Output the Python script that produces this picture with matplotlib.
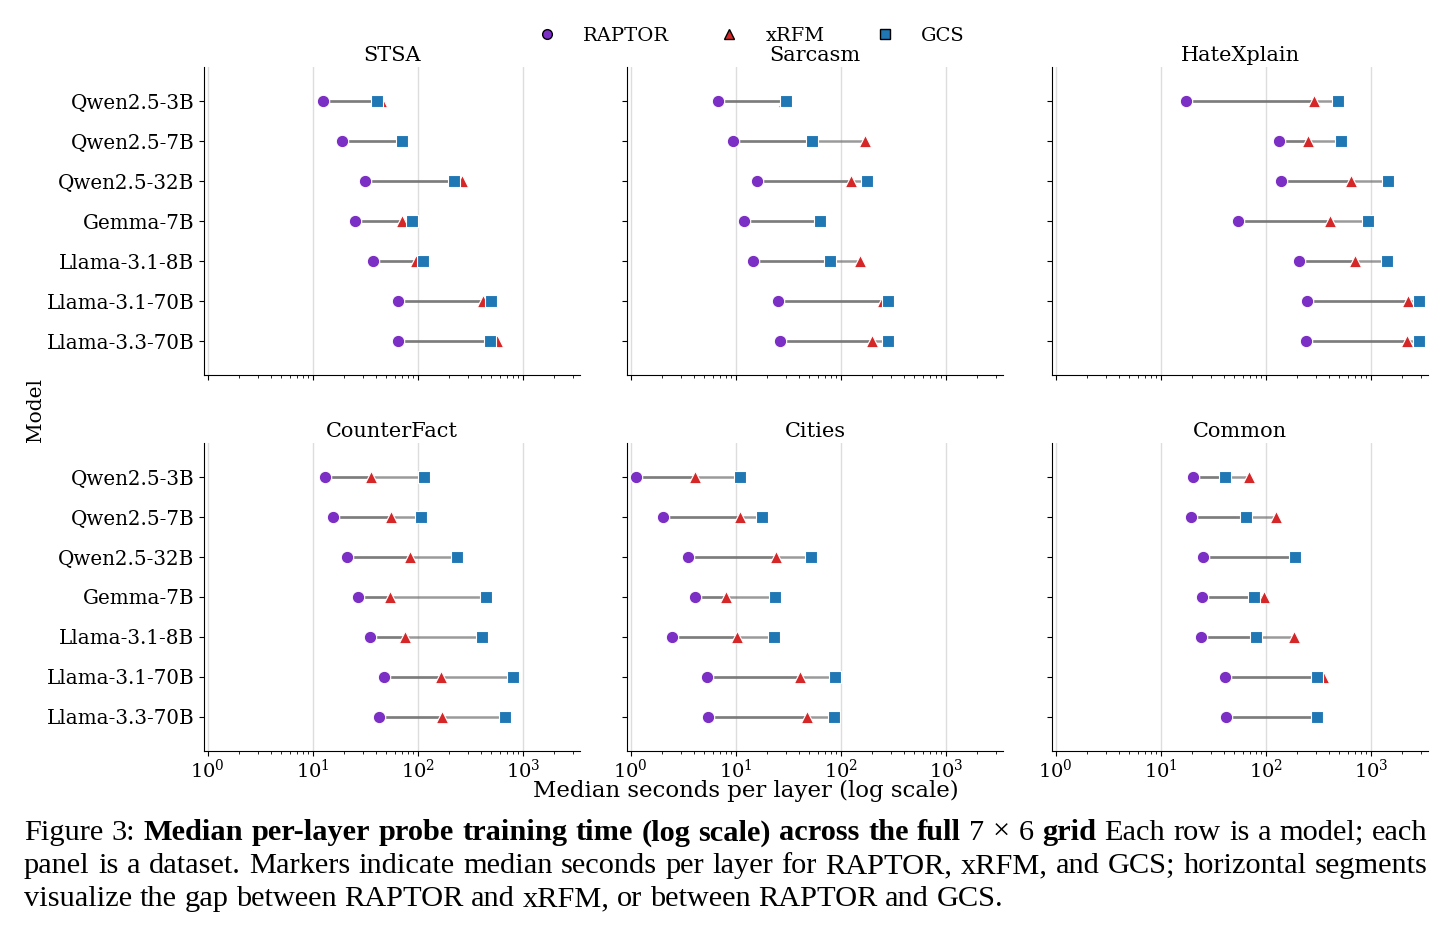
import numpy as np
import matplotlib
matplotlib.use("Agg")
import matplotlib.pyplot as plt
from matplotlib.lines import Line2D

# median seconds per layer
models = ['Qwen2.5-3B', 'Qwen2.5-7B', 'Qwen2.5-32B', 'Gemma-7B',
          'Llama-3.1-8B', 'Llama-3.1-70B', 'Llama-3.3-70B']
datasets = ['STSA', 'Sarcasm', 'HateXplain', 'CounterFact', 'Cities', 'Common']

raptor = {
    'STSA':        [12.4, 19.0, 31.6, 25.0, 37.7, 65.0, 64.6],
    'Sarcasm':     [6.7, 9.4, 16.0, 12.0, 14.6, 25.4, 26.2],
    'HateXplain':  [17.4, 134.5, 138.6, 54.7, 205, 246, 241],
    'CounterFact': [13.2, 15.6, 21.0, 26.7, 35.2, 47.2, 42.4],
    'Cities':      [1.13, 2.01, 3.47, 4.06, 2.49, 5.3, 5.46],
    'Common':      [20.2, 19.4, 25.3, 24.6, 24.3, 41.2, 42.1],
}
xrfm = {
    'STSA':        [45, 70, 265, 70, 95, 417, 570],
    'Sarcasm':     [29, 168, 125, 62, 151, 250, 197],
    'HateXplain':  [286, 250, 643, 409, 711, 2255, 2208],
    'CounterFact': [35.5, 55.8, 85, 54.6, 75.3, 165, 169],
    'Cities':      [4.08, 11.0, 24.3, 8.15, 10.2, 40.8, 47.2],
    'Common':      [69, 125, 190, 97, 184, 351, 300],
}
gcs = {
    'STSA':        [40.5, 71, 221, 88, 112, 493, 483],
    'Sarcasm':     [30.3, 53, 177, 64, 78.7, 284, 284],
    'HateXplain':  [484, 524, 1449, 937, 1430, 2884, 2884],
    'CounterFact': [114, 108, 234, 449, 405, 809, 679],
    'Cities':      [10.9, 17.8, 51.9, 23.6, 23.3, 87.7, 85.9],
    'Common':      [40.4, 64.7, 191, 76.4, 81, 308, 310],
}

c_raptor = '#7b2fc4'
c_xrfm = '#d62728'
c_gcs = '#1f77b4'

plt.rcParams['font.family'] = ['DejaVu Serif']
plt.rcParams['mathtext.fontset'] = 'dejavuserif'

W, H = 1451, 932
fig = plt.figure(figsize=(W / 100, H / 100), dpi=100)

lefts = [204, 627, 1052]
pw = 376
tops = [67, 443]
ph = 308

y = np.arange(len(models))
for i, name in enumerate(datasets):
    r, c = divmod(i, 3)
    ax = fig.add_axes([lefts[c] / W, 1 - (tops[r] + ph) / H, pw / W, ph / H])
    ra = np.array(raptor[name])
    xr = np.array(xrfm[name])
    gc = np.array(gcs[name])
    for k in range(len(models)):
        ax.plot([ra[k], xr[k]], [y[k], y[k]], color='#707070', lw=1.8, alpha=0.7, zorder=1)
        ax.plot([ra[k], gc[k]], [y[k], y[k]], color='#707070', lw=1.8, alpha=0.7, zorder=1)
    ax.scatter(ra, y, s=80, marker='o', color=c_raptor, edgecolor='white', linewidth=0.8, zorder=3)
    ax.scatter(xr, y, s=80, marker='^', color=c_xrfm, edgecolor='white', linewidth=0.8, zorder=4)
    ax.scatter(gc, y, s=80, marker='s', color=c_gcs, edgecolor='white', linewidth=0.8, zorder=5)

    ax.set_xscale('log')
    ax.set_xlim(0.92, 3500)
    ax.set_ylim(6.85, -0.85)
    ax.set_yticks(y)
    if c == 0:
        ax.set_yticklabels(models, fontsize=14.3)
    else:
        ax.set_yticklabels([])
    if r == 0:
        ax.tick_params(axis='x', labelbottom=False)
    ax.tick_params(axis='x', labelsize=14, pad=2)
    ax.grid(True, axis='x', which='major', color='#dddddd', lw=1)
    ax.set_axisbelow(True)
    ax.spines['top'].set_visible(False)
    ax.spines['right'].set_visible(False)
    ax.set_title(name, fontsize=15, pad=4)

fig.text(746 / W, 1 - 791 / H, 'Median seconds per layer (log scale)', ha='center', va='center', fontsize=16.5)
fig.text(35 / W, 1 - 410 / H, 'Model', ha='center', va='center', rotation=90, fontsize=14.5)

handles = [
    Line2D([], [], marker='o', ls='', color=c_raptor, markeredgecolor='black', markersize=7),
    Line2D([], [], marker='^', ls='', color=c_xrfm, markeredgecolor='black', markersize=7),
    Line2D([], [], marker='s', ls='', color=c_gcs, markeredgecolor='black', markersize=7),
]
fig.legend(handles, ['RAPTOR', 'xRFM', 'GCS'], loc='center', bbox_to_anchor=(746 / W, 1 - 36 / H),
           ncol=3, frameon=False, fontsize=14, columnspacing=2.1, handletextpad=0.85)

# caption, justified line by line
cap_lines = [
    [('Figure 3:', False), ('Median per-layer probe training time (log scale) across the full', True),
     ('7 × 6', False), ('grid', True), ('Each row is a model; each', False)],
    [('panel is a dataset. Markers indicate median seconds per layer for RAPTOR, xRFM, and GCS; horizontal segments', False)],
    [('visualize the gap between RAPTOR and xRFM, or between RAPTOR and GCS.', False)],
]
cap_y = [833, 866, 899]
cap_fs = 21.9
x0, x1 = 24, 1428
renderer = fig.canvas.get_renderer()
a = fig.text(0, 0, 'a b', fontsize=cap_fs, family='Liberation Serif', alpha=0)
b = fig.text(0, 0, 'ab', fontsize=cap_fs, family='Liberation Serif', alpha=0)
sw = a.get_window_extent(renderer).width - b.get_window_extent(renderer).width
a.remove()
b.remove()
for li, line in enumerate(cap_lines):
    words = []
    for seg, bold in line:
        for w in seg.split(' '):
            words.append((w, bold))
    texts = []
    widths = []
    for w, bold in words:
        t = fig.text(0, 1 - cap_y[li] / H, w, fontsize=cap_fs, family='Liberation Serif',
                     fontweight='bold' if bold else 'normal', va='center', ha='left')
        texts.append(t)
        widths.append(t.get_window_extent(renderer).width)
    if li < len(cap_lines) - 1:
        gap = (x1 - x0 - sum(widths)) / (len(words) - 1)
    else:
        gap = sw
    x = x0
    for t, wdt in zip(texts, widths):
        t.set_x(x / W)
        x += wdt + gap

fig.savefig('out.png', dpi=100)
